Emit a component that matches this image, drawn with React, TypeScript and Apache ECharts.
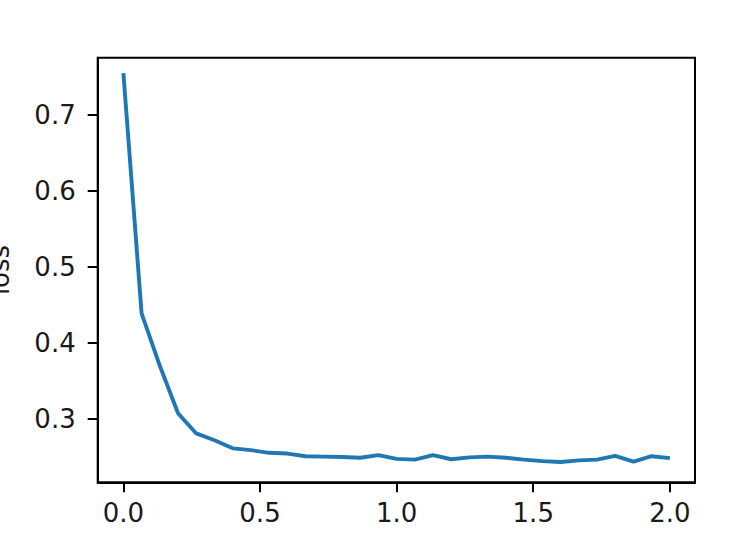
import React, { useEffect, useRef } from "react";
import * as echarts from "echarts";

const epochs: number[] = [
  0, 1, 2, 3, 4, 5, 6, 7, 8, 9, 10, 11, 12, 13, 14, 15,
  16, 17, 18, 19, 20, 21, 22, 23, 24, 25, 26, 27, 28, 29, 30,
].map((k) => k / 15);

const lossValues: number[] = [
  0.755, 0.439, 0.37, 0.3075, 0.281, 0.272, 0.2614, 0.259, 0.2555, 0.2545,
  0.251, 0.2505, 0.25, 0.249, 0.2525, 0.2475, 0.2465, 0.2525, 0.247, 0.2495,
  0.2505, 0.249, 0.2465, 0.2445, 0.2435, 0.2455, 0.2465, 0.2515, 0.244, 0.251,
  0.2485,
];

const xTicks: number[] = [0, 0.5, 1.0, 1.5, 2.0];
const yTicks: number[] = [0.3, 0.4, 0.5, 0.6, 0.7];
const yName = "loss";

export default function App() {
  const ref = useRef<HTMLDivElement>(null);
  useEffect(() => {
    if (!ref.current) return;
    const chart = echarts.init(ref.current, undefined, { renderer: "svg" });
    const font = "DejaVu Sans";
    chart.setOption({
      animation: false,
      backgroundColor: "#fff",
      grid: {
        left: 97.7,
        right: 51,
        top: 57.7,
        bottom: 57.7,
        containLabel: false,
        outerBoundsMode: "none",
        show: true,
        borderColor: "#000",
        borderWidth: 2,
        backgroundColor: "transparent",
      },
      xAxis: {
        type: "value",
        min: -0.094,
        max: 2.092,
        splitLine: { show: false },
        axisLine: { show: true, onZero: false, lineStyle: { color: "#000", width: 2 } },
        axisTick: {
          show: true,
          length: 10,
          lineStyle: { color: "#000", width: 2 },
          customValues: xTicks,
        },
        axisLabel: {
          show: true,
          margin: 18,
          fontSize: 26,
          fontFamily: font,
          color: "#1a1a1a",
          customValues: xTicks,
          formatter: (v: number) => v.toFixed(1),
        },
      },
      yAxis: {
        type: "value",
        min: 0.2167,
        max: 0.7754,
        name: yName,
        nameLocation: "middle",
        nameRotate: 90,
        nameGap: 85,
        nameTextStyle: { fontSize: 26, fontFamily: font, color: "#1a1a1a" },
        splitLine: { show: false },
        axisLine: { show: true, onZero: false, lineStyle: { color: "#000", width: 2 } },
        axisTick: {
          show: true,
          length: 10,
          lineStyle: { color: "#000", width: 2 },
          customValues: yTicks,
        },
        axisLabel: {
          show: true,
          margin: 22,
          fontSize: 26,
          fontFamily: font,
          color: "#1a1a1a",
          customValues: yTicks,
          formatter: (v: number) => v.toFixed(1),
        },
      },
      series: [
        {
          type: "line",
          data: epochs.map((x, i) => [x, lossValues[i]]),
          showSymbol: false,
          lineStyle: { color: "#1f77b4", width: 3.9 },
          itemStyle: { color: "#1f77b4" },
        },
      ],
    });
    return () => chart.dispose();
  }, []);
  return (
    <div
      ref={ref}
      style={{ position: "fixed", left: 0, top: 0, width: 746, height: 540 }}
    />
  );
}
